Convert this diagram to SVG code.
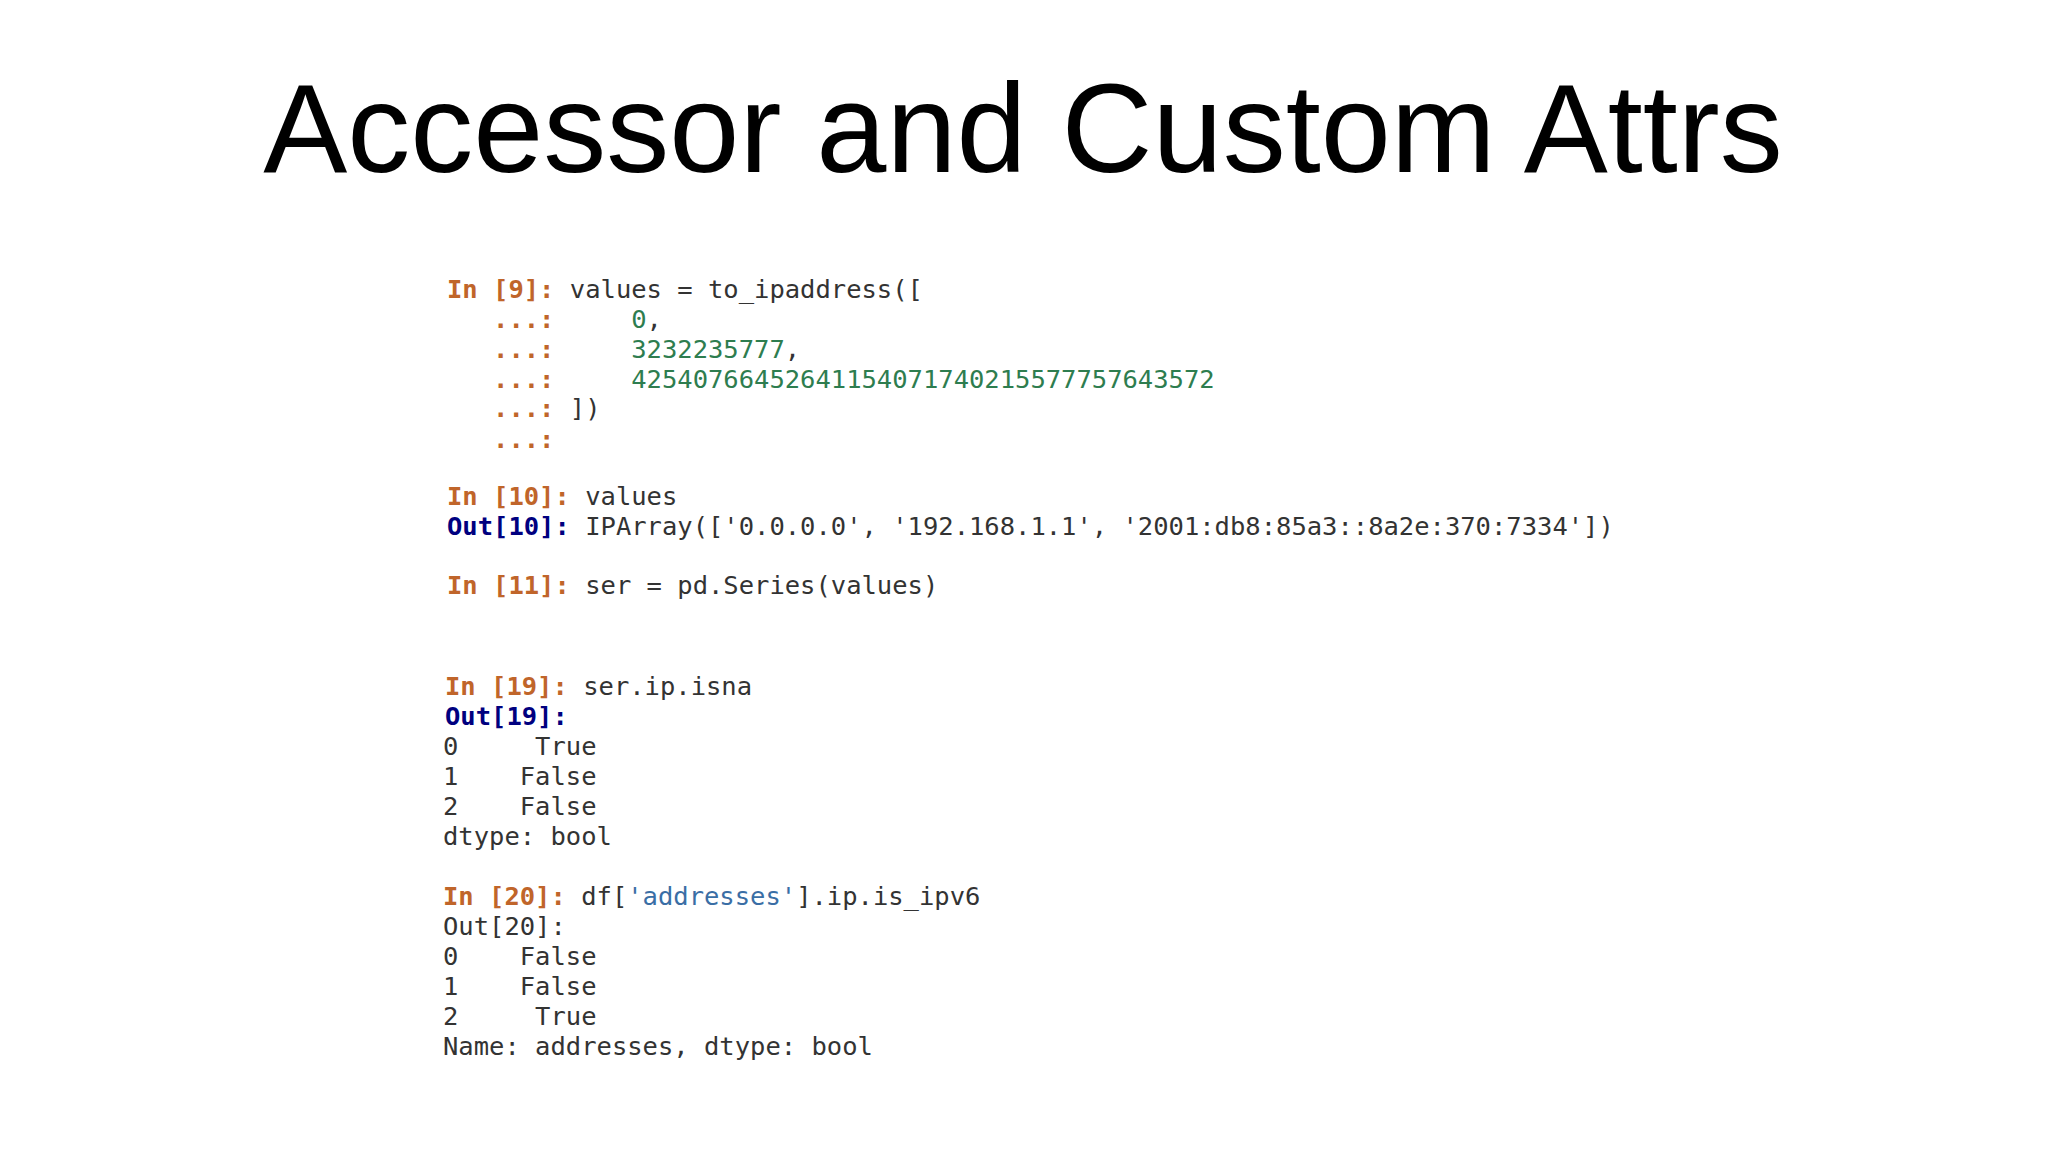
<svg xmlns="http://www.w3.org/2000/svg" width="2048" height="1152" viewBox="0 0 2048 1152">
<style>
.t{font-family:"DejaVu Sans Mono","Liberation Mono",monospace;font-size:25.5px;fill:#333;white-space:pre}
.in{fill:#c0652a;font-weight:bold}
.out{fill:#00007f;font-weight:bold}
.g{fill:#2e7d4f}
.s{fill:#3a6ea5}
</style>
<rect width="2048" height="1152" fill="#ffffff"/>
<g id="title"><text x="1023" y="172" text-anchor="middle" font-family="Liberation Sans, Arial, sans-serif" font-size="126" fill="#000">Accessor and Custom Attrs</text></g>
<g id="code" class="t" xml:space="preserve">
<text class="t" x="447" y="298"><tspan class="in">In [9]:</tspan> values = to_ipaddress([</text>
<text class="t" x="447" y="328"><tspan class="in">   ...:</tspan>     <tspan class="g">0</tspan>,</text>
<text class="t" x="447" y="358"><tspan class="in">   ...:</tspan>     <tspan class="g">3232235777</tspan>,</text>
<text class="t" x="447" y="388"><tspan class="in">   ...:</tspan>     <tspan class="g">42540766452641154071740215577757643572</tspan></text>
<text class="t" x="447" y="417"><tspan class="in">   ...:</tspan> ])</text>
<text class="t" x="447" y="448"><tspan class="in">   ...:</tspan></text>
<text class="t" x="447" y="505"><tspan class="in">In [10]:</tspan> values</text>
<text class="t" x="447" y="535"><tspan class="out">Out[10]:</tspan> IPArray(['0.0.0.0', '192.168.1.1', '2001:db8:85a3::8a2e:370:7334'])</text>
<text class="t" x="447" y="594"><tspan class="in">In [11]:</tspan> ser = pd.Series(values)</text>
<text class="t" x="445" y="695"><tspan class="in">In [19]:</tspan> ser.ip.isna</text>
<text class="t" x="445" y="725"><tspan class="out">Out[19]:</tspan></text>
<text class="t" x="443" y="755">0     True</text>
<text class="t" x="443" y="785">1    False</text>
<text class="t" x="443" y="815">2    False</text>
<text class="t" x="443" y="845">dtype: bool</text>
<text class="t" x="443" y="905"><tspan class="in">In [20]:</tspan> df[<tspan class="s">'addresses'</tspan>].ip.is_ipv6</text>
<text class="t" x="443" y="935">Out[20]:</text>
<text class="t" x="443" y="965">0    False</text>
<text class="t" x="443" y="995">1    False</text>
<text class="t" x="443" y="1025">2     True</text>
<text class="t" x="443" y="1055">Name: addresses, dtype: bool</text>
</g>
</svg>
